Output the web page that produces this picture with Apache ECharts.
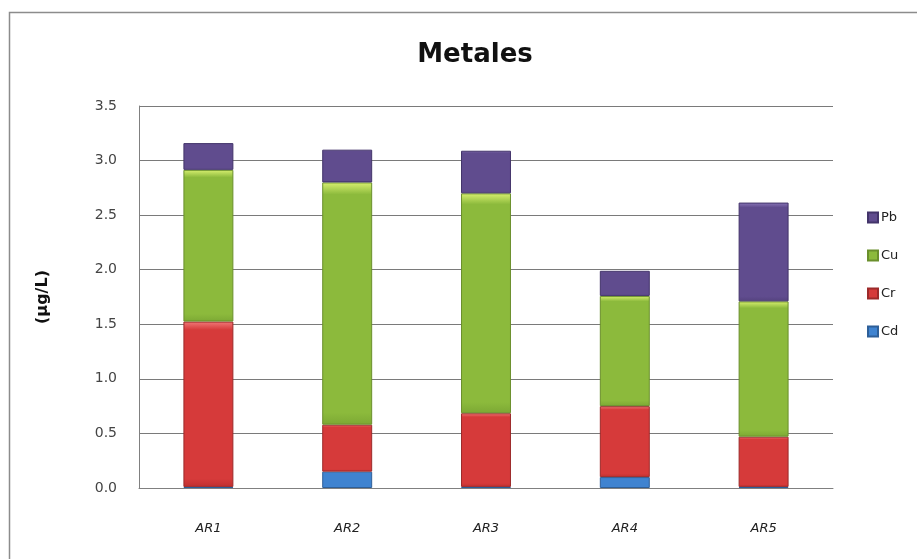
<!DOCTYPE html>
<html>
<head>
<meta charset="utf-8">
<script src="https://cdn.jsdelivr.net/npm/echarts@6/dist/echarts.min.js"></script>
<style>
  html, body { margin: 0; padding: 0; background: #ffffff; }
  #chart { width: 917px; height: 559px; }
</style>
</head>
<body>
<div id="chart"></div>
<script>
// Sampling points and metal concentrations (µg/L), stacked per point
const categories = ['AR1', 'AR2', 'AR3', 'AR4', 'AR5'];
const cd = [0.01, 0.15, 0.01, 0.10, 0.01];
const cr = [1.515, 0.43, 0.675, 0.65, 0.46];
const cu = [1.39, 2.22, 2.015, 1.01, 1.24];
const pb = [0.245, 0.30, 0.39, 0.23, 0.905];
const yTicks = { min: 0, max: 3.5, interval: 0.5 };

// Bevel-style fill: lighter band on top, slightly darker toward the bottom
function bevel(light, base, dark) {
  return new echarts.graphic.LinearGradient(0, 0, 0, 1, [
    { offset: 0, color: light },
    { offset: 0.05, color: base },
    { offset: 0.95, color: base },
    { offset: 1, color: dark }
  ]);
}

const palette = {
  Cd: { light: '#8cc4f2', base: '#3f83d0', dark: '#3570b4', edge: '#2e5f98' },
  Cr: { light: '#f07a7a', base: '#d63a3a', dark: '#bf3030', edge: '#9c2a2a' },
  Cu: { light: '#d8f070', base: '#8cba3c', dark: '#7ca834', edge: '#6a8f2c' },
  Pb: { light: '#8a76b8', base: '#604c8e', dark: '#54427e', edge: '#43346a' }
};

function makeSeries(name, values) {
  const c = palette[name];
  return {
    name: name,
    type: 'bar',
    stack: 'metales',
    data: values,
    barWidth: '36%',
    itemStyle: {
      color: bevel(c.light, c.base, c.dark),
      borderColor: c.edge,
      borderWidth: 1
    }
  };
}

const chart = echarts.init(document.getElementById('chart'), null, { renderer: 'canvas' });

chart.setOption({
  backgroundColor: '#ffffff',
  animation: false,
  title: {
    text: 'Metales',
    left: 470,
    top: 37,
    textAlign: 'center',
    textStyle: {
      fontFamily: '"DejaVu Sans", sans-serif',
      fontWeight: 'bold',
      fontSize: 26,
      color: '#111111'
    }
  },
  graphic: [{
    type: 'rect',
    shape: { x: 9.5, y: 12.5, width: 960, height: 600 },
    style: { fill: 'none', stroke: '#8c8c8c', lineWidth: 1.5 },
    silent: true
  }],
  legend: {
    orient: 'vertical',
    left: 862,
    top: 206,
    itemWidth: 10,
    itemHeight: 10,
    itemGap: 25,
    icon: 'rect',
    data: ['Pb', 'Cu', 'Cr', 'Cd'],
    textStyle: {
      fontFamily: '"DejaVu Sans", sans-serif',
      fontSize: 13,
      color: '#222222',
      padding: [0, 0, 0, -2]
    }
  },
  grid: {
    left: 139,
    right: 84,
    top: 106,
    bottom: 71
  },
  xAxis: {
    type: 'category',
    data: categories,
    axisLine: { show: true, lineStyle: { color: '#808080', width: 1 } },
    axisTick: { show: false },
    axisLabel: {
      margin: 34,
      fontFamily: '"DejaVu Sans", sans-serif',
      fontStyle: 'italic',
      fontSize: 13,
      color: '#222222'
    }
  },
  yAxis: {
    type: 'value',
    min: yTicks.min,
    max: yTicks.max,
    interval: yTicks.interval,
    name: '(µg/L)',
    nameLocation: 'middle',
    nameRotate: 90,
    nameGap: 88,
    nameTextStyle: {
      fontFamily: '"DejaVu Sans", sans-serif',
      fontWeight: 'bold',
      fontSize: 16,
      color: '#111111'
    },
    axisLine: { show: true, lineStyle: { color: '#808080', width: 1 } },
    axisTick: { show: false },
    splitLine: { show: true, lineStyle: { color: '#7a7a7a', width: 1 } },
    axisLabel: {
      margin: 22,
      fontFamily: '"DejaVu Sans", sans-serif',
      fontSize: 14,
      color: '#444444',
      formatter: function (v) { return v.toFixed(1); }
    }
  },
  series: [
    makeSeries('Cd', cd),
    makeSeries('Cr', cr),
    makeSeries('Cu', cu),
    makeSeries('Pb', pb)
  ]
});
</script>
</body>
</html>
